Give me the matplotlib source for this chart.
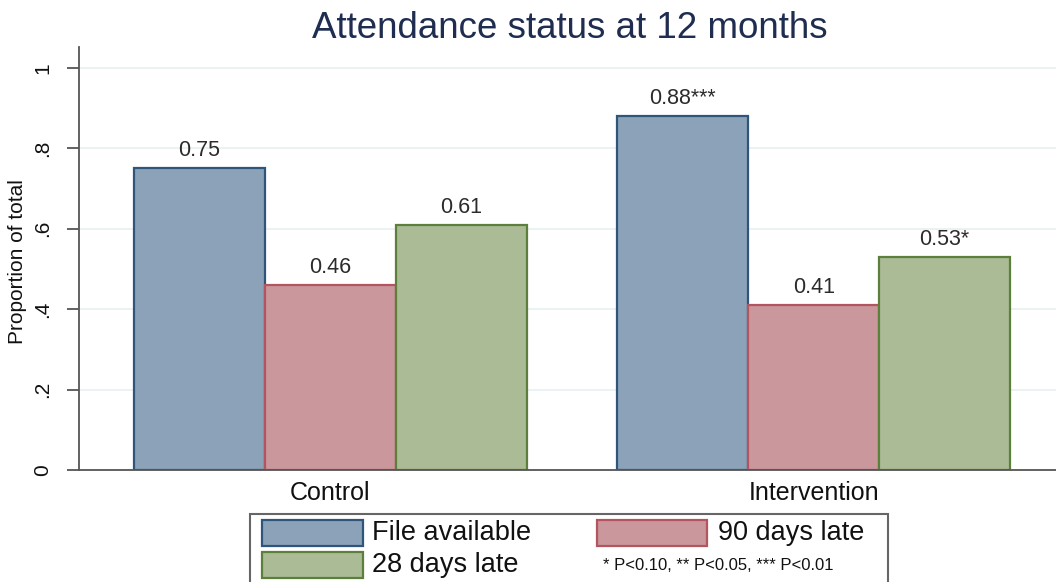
import matplotlib
matplotlib.use("Agg")
import matplotlib.pyplot as plt
from matplotlib.patches import Rectangle

plt.rcParams['font.family'] = ['Liberation Sans', 'DejaVu Sans']

# data
groups = ["Control", "Intervention"]
series = ["File available", "90 days late", "28 days late"]
control = [0.75, 0.46, 0.61]
intervention = [0.88, 0.41, 0.53]
stars_control = ["", "", ""]
stars_intervention = ["***", "", "*"]
yticks = [0, 0.2, 0.4, 0.6, 0.8, 1]
ytick_labels = ["0", ".2", ".4", ".6", ".8", "1"]
title = "Attendance status at 12 months"
note = "* P<0.10, ** P<0.05, *** P<0.01"

fills = ["#8ca2b8", "#c9979c", "#aabb96"]
edges = ["#2f557a", "#b4545e", "#5d7f3c"]

W, H = 1056, 582


def px(x, y):
    # pixel position -> figure fraction
    return x / W, 1 - y / H


fig = plt.figure(figsize=(W / 100, H / 100), dpi=100)
ax = fig.add_axes([79 / W, 1 - 470 / H, 1 - 79 / W, (470 - 47) / H])

values = [control, intervention]
stars = [stars_control, stars_intervention]
group_gap = 3.69
for j in range(len(series)):
    xs = [g * group_gap + (j - 1) for g in range(len(groups))]
    hs = [values[g][j] for g in range(len(groups))]
    bars = ax.bar(xs, hs, width=1, color=fills[j], edgecolor=edges[j],
                  linewidth=1.6, zorder=2)
    for g, b in enumerate(bars):
        ax.annotate(f"{hs[g]:.2f}{stars[g][j]}",
                    (b.get_x() + b.get_width() / 2, b.get_height()),
                    xytext=(0, 5), textcoords="offset points",
                    ha="center", va="bottom", fontsize=15.5, color="#2b2b2b")

ax.set_xlim(-1.92, 5.54)
ax.set_ylim(0, 1.052)
ax.set_xticks([g * group_gap for g in range(len(groups))])
ax.set_xticklabels(groups, fontsize=18, color="#111")
ax.tick_params(axis="x", length=0, pad=8)
ax.set_yticks(yticks)
ax.set_yticklabels(ytick_labels, rotation=90, va="center", fontsize=15, color="#111")
ax.tick_params(axis="y", length=9, width=1.3, color="#555", pad=10)

ax.grid(axis="y", color="#e8f0f2", linewidth=1.2, zorder=0)
ax.set_axisbelow(True)
for s in ["top", "right"]:
    ax.spines[s].set_visible(False)
ax.spines["left"].set_color("#555")
ax.spines["left"].set_linewidth(1.3)
ax.spines["bottom"].set_color("#555")
ax.spines["bottom"].set_linewidth(1.3)

fig.text(*px(570, 28), title, ha="center", va="center", fontsize=26.5, color="#1e2d50")
fig.text(*px(18, 262), "Proportion of total", rotation=90, ha="center", va="center",
         fontsize=15, color="#111")

# legend drawn by hand to match the two-row layout with the note
bx0, by0 = px(250, 600)
bx1, by1 = px(888, 514)
fig.add_artist(Rectangle((bx0, by0), bx1 - bx0, by1 - by0, transform=fig.transFigure,
                         facecolor="white", edgecolor="#666", linewidth=1.5))
entries = [(262, 520, 363, 546, 372, series[0]),
           (597, 520, 707, 546, 718, series[1]),
           (262, 552, 363, 578, 372, series[2])]
for j, (x0, y0, x1, y1, tx, lab) in enumerate(entries):
    a, b = px(x0, y1)
    c, d = px(x1, y0)
    fig.add_artist(Rectangle((a, b), c - a, d - b, transform=fig.transFigure,
                             facecolor=fills[j], edgecolor=edges[j], linewidth=1.6))
    fig.text(*px(tx, (y0 + y1) / 2), lab, ha="left", va="center", fontsize=19.5, color="#111")
fig.text(*px(603, 565), note, ha="left", va="center", fontsize=12, color="#111")

fig.savefig("out.png", dpi=100)
